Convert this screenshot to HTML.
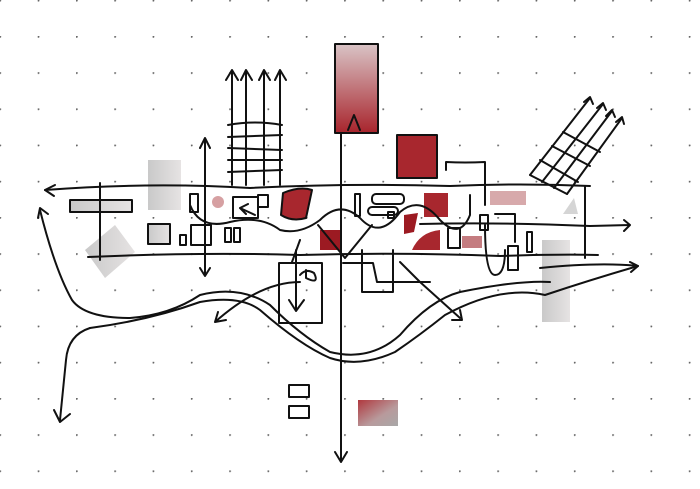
<!DOCTYPE html>
<html><head><style>
html,body{margin:0;padding:0;background:#fff;}
svg{display:block;}
</style></head><body>
<svg width="700" height="489" viewBox="0 0 700 489" xmlns="http://www.w3.org/2000/svg">
<defs>
<pattern id="dots" x="76" y="36" width="38.3" height="36.2" patternUnits="userSpaceOnUse">
<circle cx="0.8" cy="0.8" r="1" fill="#666"/>
</pattern>
<linearGradient id="rg" x1="0" y1="0" x2="0" y2="1"><stop offset="0" stop-color="#d9c4c6"/><stop offset="1" stop-color="#a8242c"/></linearGradient>
<linearGradient id="rg2" x1="0" y1="0" x2="1" y2="1"><stop offset="0" stop-color="#b0383e"/><stop offset="0.6" stop-color="#b89a9c"/><stop offset="1" stop-color="#a8a8a8"/></linearGradient>
<linearGradient id="gg" x1="0" y1="0" x2="1" y2="0"><stop offset="0" stop-color="#c9c9c9"/><stop offset="1" stop-color="#e6e3e3"/></linearGradient>
</defs>
<rect x="0" y="0" width="700" height="489" fill="url(#dots)"/>
<g stroke="#111" stroke-width="2" fill="none" stroke-linecap="round" stroke-linejoin="round">
<!-- fills -->
<rect x="335" y="44" width="43" height="89" fill="url(#rg)"/>
<rect x="397" y="135" width="40" height="43" fill="#a8272e"/>
<rect x="148" y="160" width="33" height="50" fill="url(#gg)" stroke="none"/>
<rect x="70" y="200" width="62" height="12" fill="url(#gg)"/>
<rect x="148" y="224" width="22" height="20" fill="url(#gg)"/>
<polygon points="85,250 115,225 135,252 105,278" fill="url(#gg)" stroke="none"/>
<rect x="542" y="240" width="28" height="82" fill="url(#gg)" stroke="none"/>
<rect x="490" y="191" width="36" height="14" fill="#d7a9ab" stroke="none"/>
<polygon points="574,198 578,214 563,214" fill="#d5d5d5" stroke="none"/>
<rect x="462" y="236" width="20" height="12" fill="#c47c80" stroke="none"/>
<path d="M283,193 Q300,186 312,190 L306,218 Q292,222 281,215 Z" fill="#a8272e"/>
<rect x="320" y="230" width="20" height="20" fill="#9c1a22" stroke="none"/>
<path d="M404,215 L418,213 L414,232 L404,234 Z" fill="#9c1a22" stroke="none"/>
<rect x="424" y="193" width="24" height="24" fill="#a8272e" stroke="none"/>
<path d="M412,250 Q420,232 440,230 L440,250 Z" fill="#a8272e" stroke="none"/>
<circle cx="218" cy="202" r="6" fill="#d6a0a2" stroke="none"/>
<rect x="358" y="400" width="40" height="26" fill="url(#rg2)" stroke="none"/>
<!-- main band -->
<path d="M45,190 Q150,182 250,188 Q350,183 450,186 Q520,183 590,186"/>
<path d="M45,190 L55,185 M45,190 L54,196"/>
<path d="M88,257 Q200,252 300,255 Q400,252 500,256 Q560,254 598,255"/>
<path d="M100,183 L100,260 M585,186 L585,258"/>
<path d="M420,224 Q500,222 590,226 L630,225 M624,220 L630,225 L624,231"/>
<path d="M540,268 Q600,262 638,266 M630,262 L638,266 L631,272"/>
<!-- inner roads -->
<path d="M190,205 Q200,230 230,222 Q260,215 280,230 Q300,235 320,220 Q340,200 360,218 Q380,240 400,212 Q420,195 440,220 Q460,240 470,215 L470,195"/>
<path d="M205,140 L205,275 M200,148 L205,138 L210,148 M200,268 L205,276 L210,268"/>
<path d="M255,215 L240,208 M240,208 L248,204 M240,208 L246,214"/>
<path d="M233,197 L258,197 L258,218 L233,218 Z"/>
<rect x="190" y="194" width="8" height="18"/>
<rect x="258" y="195" width="10" height="12"/>
<rect x="191" y="225" width="20" height="20"/>
<rect x="180" y="235" width="6" height="10"/>
<rect x="225" y="228" width="6" height="14"/>
<rect x="234" y="228" width="6" height="14"/>
<rect x="372" y="194" width="32" height="10" rx="4"/>
<rect x="368" y="207" width="30" height="8" rx="4"/>
<rect x="355" y="194" width="5" height="22"/>
<rect x="388" y="212" width="6" height="6"/>
<rect x="448" y="228" width="12" height="20"/>
<rect x="480" y="215" width="8" height="15"/>
<rect x="527" y="232" width="5" height="20"/>
<rect x="508" y="246" width="10" height="24"/>
<path d="M495,214 L515,214 L515,242 M485,225 Q485,275 495,275 Q505,275 505,250"/>
<path d="M446,170 L446,162 Q465,163 485,162 L485,205"/>
<!-- center crossings -->
<path d="M341,133 L341,460 M335,452 L341,462 L347,452"/>
<path d="M348,130 L354,115 L360,130"/>
<path d="M318,225 L345,258 L372,225"/>
<path d="M343,263 L373,263 L377,282 L430,282"/>
<path d="M362,250 L362,292 L393,292 L393,250"/>
<!-- left bottom box -->
<path d="M279,263 L279,323 L322,323 L322,263 Z"/>
<path d="M292,262 L300,240 M296,250 L296,310 M289,300 L296,311 L304,300"/>
<path d="M306,270 L306,278 Q320,285 314,273 Q306,268 300,275"/>
<!-- vertical grid left -->
<path d="M232,72 L232,185 M246,72 L246,185 M264,72 L264,185 M280,72 L280,185"/>
<path d="M226,80 L232,70 L238,80 M241,80 L246,70 L252,80 M259,80 L264,70 L270,80 M275,80 L280,70 L286,80"/>
<path d="M228,125 Q255,120 282,125 M228,137 L282,135 M228,148 L282,150 M228,160 L282,160 M228,172 L282,170"/>
<!-- diagonal grid right -->
<path d="M530,175 L590,98 M542,182 L603,104 M554,188 L612,111 M567,194 L622,118"/>
<path d="M584,102 L590,97 L593,104 M597,108 L603,103 L606,110 M606,116 L612,110 L615,117 M616,122 L622,117 L624,124"/>
<path d="M530,175 L567,194 M540,160 L578,182 M552,146 L590,166 M563,132 L600,152"/>
<!-- big curves -->
<path d="M40,210 Q55,270 72,300 Q85,318 130,318 Q170,315 200,295 Q240,285 270,305 Q300,335 330,352 Q370,362 400,335 Q430,300 460,292 Q520,280 550,282"/>
<path d="M90,328 Q150,320 200,302 Q240,295 260,310 Q300,345 330,358 Q360,368 395,352 Q420,335 445,315 Q500,285 545,295 Q590,280 638,266"/>
<path d="M90,328 Q68,335 66,360 L60,420 M54,410 L60,422 L70,414"/>
<path d="M38,218 L40,208 L48,214"/>
<path d="M215,322 Q260,282 300,282 M215,322 L226,320 M215,322 L218,312"/>
<path d="M400,262 L420,282 Q440,300 460,318 M452,320 L462,320 L460,310"/>
<!-- small bottom boxes -->
<rect x="289" y="385" width="20" height="12"/>
<rect x="289" y="406" width="20" height="12"/>
</g>
</svg>
</body></html>
